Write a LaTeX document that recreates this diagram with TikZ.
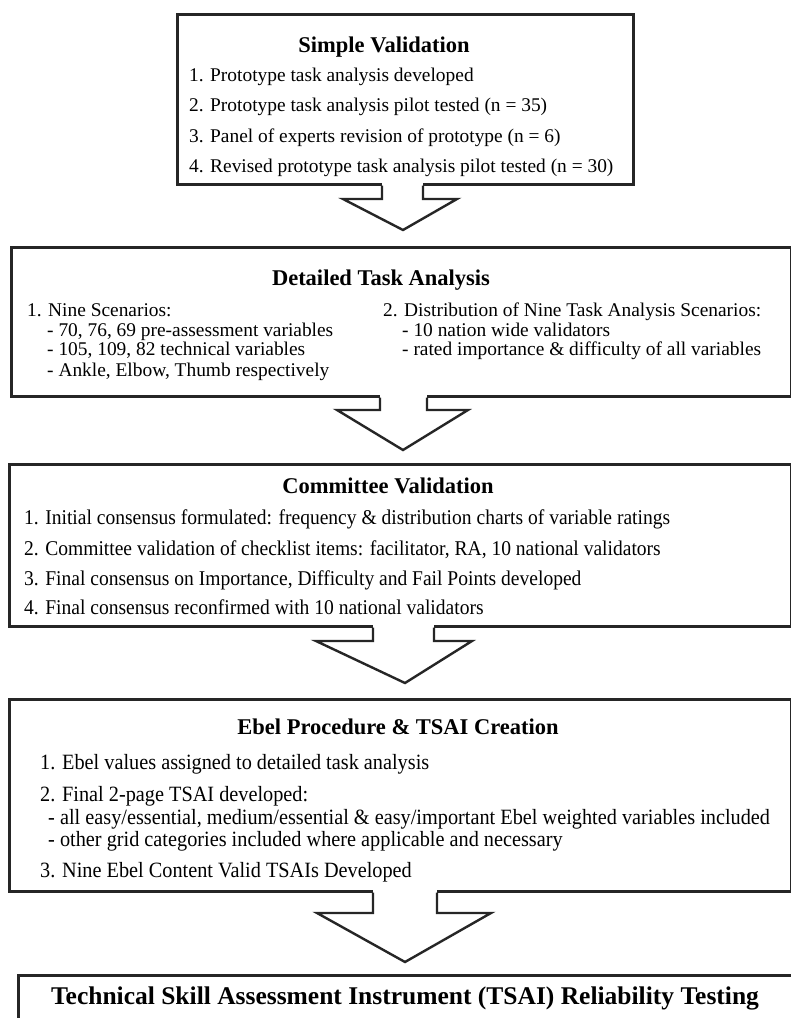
\documentclass[tikz,border=0pt]{standalone}
\usepackage{fontspec}
\setmainfont{Liberation Serif}
\newfontfamily\fcC[FakeStretch=0.93]{Liberation Serif}
\begin{document}
\begin{tikzpicture}[x=1pt,y=-1pt,
  box/.style={draw=black!85, line width=2.6pt, fill=white, rectangle, inner sep=0pt},
  arr/.style={draw=black!85, line width=2.4pt, line join=miter},
  ttl/.style={font=\bfseries\fontsize{22.5}{26}\selectfont, anchor=base, inner sep=0pt},
  txt/.style={font=\fontsize{19.4}{22}\selectfont, anchor=base west, inner sep=0pt},
  txtC/.style={txt, font=\fcC\fontsize{21}{24}\selectfont},
  txtD/.style={txt, font=\fcC\fontsize{21.8}{24}\selectfont}]
\useasboundingbox (0,0) rectangle (791,1018);
\fill[white] (0,0) rectangle (791,1018);
\clip (0,0) rectangle (791,1018);

% boxes
\node[box, anchor=north west, minimum width=456pt, minimum height=170pt] (b1) at (176,13) {};
\node[box, anchor=north west, minimum width=780pt, minimum height=149pt] (b2) at (10,246) {};
\node[box, anchor=north west, minimum width=782pt, minimum height=162pt] (b3) at (8,463) {};
\node[box, anchor=north west, minimum width=782pt, minimum height=192pt] (b4) at (8,698) {};
\node[box, anchor=north west, minimum width=800pt, minimum height=80pt] (b5) at (17,974) {};

% box 1
\node[ttl] (t1) at (384,52) {Simple Validation};
\node[txt] (l11) at (189,81) {1. Prototype task analysis developed};
\node[txt] (l12) at (189,111) {2. Prototype task analysis pilot tested (n = 35)};
\node[txt] (l13) at (189,142) {3. Panel of experts revision of prototype (n = 6)};
\node[txt] (l14) at (189,172) {4. Revised prototype task analysis pilot tested (n = 30)};

% box 2
\node[ttl] (t2) at (381,285) {Detailed Task Analysis};
\node[txt] (l21) at (27,316) {1. Nine Scenarios:};
\node[txt] (l22) at (47,336) {- 70, 76, 69 pre-assessment variables};
\node[txt] (l23) at (47,355) {- 105, 109, 82 technical variables};
\node[txt] (l24) at (47,376) {- Ankle, Elbow, Thumb respectively};
\node[txt] (r21) at (383,316) {2. Distribution of Nine Task Analysis Scenarios:};
\node[txt] (r22) at (402,336) {- 10 nation wide validators};
\node[txt] (r23) at (402,355) {- rated importance \& difficulty of all variables};

% box 3
\node[ttl] (t3) at (388,493) {Committee Validation};
\node[txtC] (l31) at (24,524) {1. Initial consensus formulated: frequency \& distribution charts of variable ratings};
\node[txtC] (l32) at (24,555) {2. Committee validation of checklist items: facilitator, RA, 10 national validators};
\node[txtC] (l33) at (24,585) {3. Final consensus on Importance, Difficulty and Fail Points developed};
\node[txtC] (l34) at (24,614) {4. Final consensus reconfirmed with 10 national validators};

% box 4
\node[ttl] (t4) at (398,734) {Ebel Procedure \& TSAI Creation};
\node[txtD] (l41) at (40,769) {1. Ebel values assigned to detailed task analysis};
\node[txtD] (l42) at (40,801) {2. Final 2-page TSAI developed:};
\node[txtD] (l43) at (48,824) {- all easy/essential, medium/essential \& easy/important Ebel weighted variables included};
\node[txtD] (l44) at (48,846) {- other grid categories included where applicable and necessary};
\node[txtD] (l45) at (40,877) {3. Nine Ebel Content Valid TSAIs Developed};

% box 5
\node[ttl, font=\bfseries\fontsize{25.5}{29}\selectfont] (t5) at (405,1004) {Technical Skill Assessment Instrument (TSAI) Reliability Testing};

% block arrows
\coordinate (a1l) at (382,0); \coordinate (a1r) at (423,0);
\fill[white] ([yshift=3pt]b1.south -| a1l) rectangle (423,199);
\draw[arr] (b1.south -| a1l) -- (382,199) -- (343,199) -- (403,230) -- (457,199) -- (423,199) -- (b1.south -| a1r);

\coordinate (a2l) at (380,0); \coordinate (a2r) at (427,0);
\fill[white] ([yshift=3pt]b2.south -| a2l) rectangle (427,410);
\draw[arr] (b2.south -| a2l) -- (380,410) -- (337,410) -- (403,450) -- (468,410) -- (427,410) -- (b2.south -| a2r);

\coordinate (a3l) at (373,0); \coordinate (a3r) at (434,0);
\fill[white] ([yshift=3pt]b3.south -| a3l) rectangle (434,641);
\draw[arr] (b3.south -| a3l) -- (373,641) -- (316,641) -- (405,683) -- (472,641) -- (434,641) -- (b3.south -| a3r);

\coordinate (a4l) at (373,0); \coordinate (a4r) at (437,0);
\fill[white] ([yshift=3pt]b4.south -| a4l) rectangle (437,913);
\draw[arr] (b4.south -| a4l) -- (373,913) -- (317,913) -- (405,962) -- (491,913) -- (437,913) -- (b4.south -| a4r);
\end{tikzpicture}
\end{document}
